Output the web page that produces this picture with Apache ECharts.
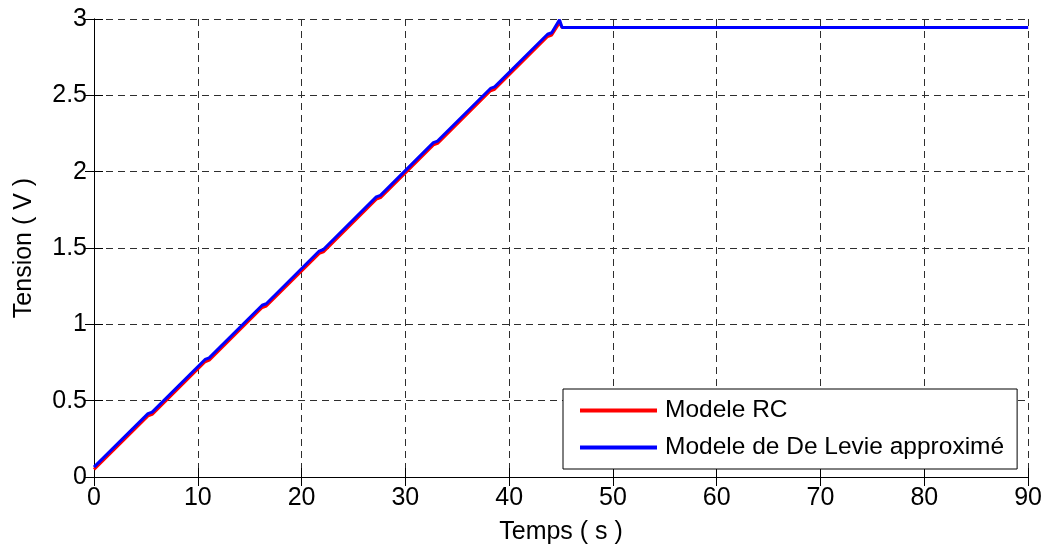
<!DOCTYPE html>
<html><head><meta charset="utf-8">
<script src="https://cdn.jsdelivr.net/npm/echarts@6/dist/echarts.min.js"></script>
<style>html,body{margin:0;padding:0;background:#fff}#c{width:1045px;height:550px}</style>
</head><body><div id="c"></div>
<script>
const timeS = [0, 5.2, 5.6, 10.7, 11.1, 16.2, 16.6, 21.7, 22.1, 27.2, 27.6, 32.7, 33.1, 38.2, 38.6, 43.7, 44.1, 44.85, 45.1, 90];
const rcModel = [0.05, 0.40, 0.41, 0.755, 0.765, 1.11, 1.12, 1.465, 1.475, 1.82, 1.83, 2.175, 2.185, 2.53, 2.54, 2.885, 2.895, 2.975, 2.945, 2.945];
const deLevieModel = [0.065, 0.415, 0.425, 0.77, 0.78, 1.125, 1.135, 1.48, 1.49, 1.835, 1.845, 2.19, 2.2, 2.545, 2.555, 2.9, 2.91, 2.995, 2.945, 2.945];
const seriesNames = ['Modele RC', 'Modele de De Levie approximé'];
const xTitle = 'Temps ( s )';
const yTitle = 'Tension ( V )';

const font = 'Liberation Sans, Arial, sans-serif';
const gridLine = {show: true, lineStyle: {color: '#2e2e2e', width: 1, type: [7, 5]}};
const axLine = {show: true, lineStyle: {color: '#000', width: 1}};
const tick = {show: true, inside: true, length: 9, lineStyle: {color: '#000'}};
const chart = echarts.init(document.getElementById('c'));
chart.setOption({
  animation: false,
  grid: {left: 94, right: 16, top: 19, bottom: 68, containLabel: false},
  legend: {
    orient: 'vertical', left: 563, top: 389,
    padding: [9, 13, 9, 17], itemGap: 12,
    itemWidth: 77, itemHeight: 4, icon: 'rect',
    borderColor: '#000', borderWidth: 1, backgroundColor: '#fff',
    textStyle: {fontFamily: font, fontSize: 24.5, color: '#000', padding: [0, 0, 0, 3]},
    data: seriesNames
  },
  xAxis: [
    {type: 'value', min: 0, max: 90, interval: 10, position: 'bottom',
     name: xTitle, nameLocation: 'middle', nameGap: 43,
     nameTextStyle: {fontFamily: font, fontSize: 25, color: '#000'},
     axisLine: axLine, axisTick: tick, splitLine: gridLine,
     axisLabel: {fontFamily: font, fontSize: 25, color: '#000', margin: 9}},
    {type: 'value', min: 0, max: 90, interval: 10, position: 'top',
     axisLine: axLine, axisTick: tick, splitLine: {show: false}, axisLabel: {show: false}}
  ],
  yAxis: [
    {type: 'value', min: 0, max: 3, interval: 0.5, position: 'left',
     name: yTitle, nameLocation: 'middle', nameGap: 57, nameRotate: 90,
     nameTextStyle: {fontFamily: font, fontSize: 25, color: '#000'},
     axisLine: axLine, axisTick: tick, splitLine: gridLine,
     axisLabel: {fontFamily: font, fontSize: 25, color: '#000', margin: 7}},
    {type: 'value', min: 0, max: 3, interval: 0.5, position: 'right',
     axisLine: axLine, axisTick: tick, splitLine: {show: false}, axisLabel: {show: false}}
  ],
  series: [
    {name: seriesNames[0], type: 'line', symbol: 'none', color: '#ff0000',
     lineStyle: {width: 3, color: '#ff0000'},
     data: timeS.map((t, i) => [t, rcModel[i]])},
    {name: seriesNames[1], type: 'line', symbol: 'none', color: '#0000ff',
     lineStyle: {width: 3, color: '#0000ff'},
     data: timeS.map((t, i) => [t, deLevieModel[i]])}
  ]
});
</script></body></html>
